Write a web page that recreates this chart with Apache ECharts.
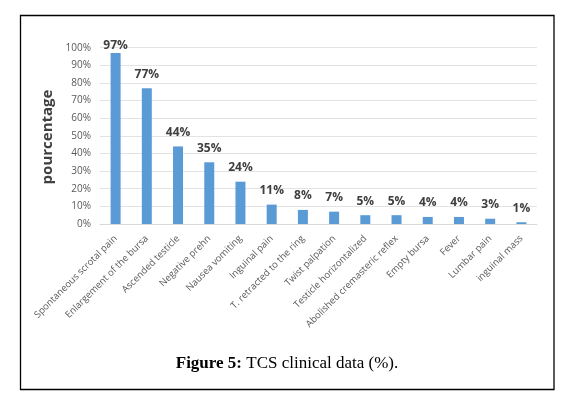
<!DOCTYPE html>
<html><head><meta charset="utf-8">
<script src="https://cdn.jsdelivr.net/npm/echarts@6/dist/echarts.min.js"></script>
<style>html,body{margin:0;padding:0;background:#fff}#c{width:574px;height:407px}</style>
</head><body><div id="c"></div>
<script>
var categories = ["Spontaneous scrotal pain","Enlargement of the bursa","Ascended testicle","Negative prehn","Nausea vomiting","Inguinal pain","T. retracted to the ring","Twist palpation","Testicle horizontalized","Abolished cremasteric reflex","Empty bursa","Fever","Lumbar pain","inguinal mass"];
var values = [97,77,44,35,24,11,8,7,5,5,4,4,3,1];
var yTicks = [0,10,20,30,40,50,60,70,80,90,100];
var yTitle = "pourcentage";
var captionBold = "Figure 5:";
var captionRest = " TCS clinical data (%).";

var barData = values.map(function(v, i){
  return i === 0 ? {value:v, label:{distance:1}} : v;
});

var chart = echarts.init(document.getElementById('c'), null, {renderer:'canvas'});
chart.setOption({
  animation:false,
  grid:{left:100, right:37, top:47.7, bottom:183, containLabel:false},
  xAxis:{type:'category', data:categories,
    axisLine:{lineStyle:{color:'#d9d9d9'}}, axisTick:{show:false},
    axisLabel:{rotate:45, interval:0, color:'#595959', fontFamily:'Open Sans', fontSize:9.5, margin:13}},
  yAxis:{type:'value', min:yTicks[0], max:yTicks[yTicks.length-1], interval:10,
    axisLine:{show:false}, axisTick:{show:false},
    splitLine:{lineStyle:{color:'#e3e3e3'}},
    axisLabel:{formatter:'{value}%', color:'#595959', fontFamily:'Open Sans', fontSize:10, margin:9}},
  series:[{type:'bar', data:barData, barWidth:10, itemStyle:{color:'#5b9bd5'},
    label:{show:true, position:'top', distance:8, formatter:'{c}%', color:'#404040', fontWeight:'bold', fontFamily:'Open Sans', fontSize:12}}],
  graphic:[
    {type:'rect', shape:{x:20.5, y:15.5, width:533.5, height:374}, style:{fill:null, stroke:'#000', lineWidth:1.3}, silent:true},
    {type:'text', x:48, y:137, rotation:Math.PI/2, style:{text:yTitle, fill:'#404040', font:'bold 15px "Open Sans"', textAlign:'center', textVerticalAlign:'middle'}},
    {type:'text', x:287, y:364, style:{rich:{b:{font:'bold 17px "Liberation Serif"', fill:'#000'}, n:{font:'17px "Liberation Serif"', fill:'#000'}}, text:'{b|'+captionBold+'}{n|'+captionRest+'}', textAlign:'center', textVerticalAlign:'middle'}}
  ]
});
</script></body></html>
